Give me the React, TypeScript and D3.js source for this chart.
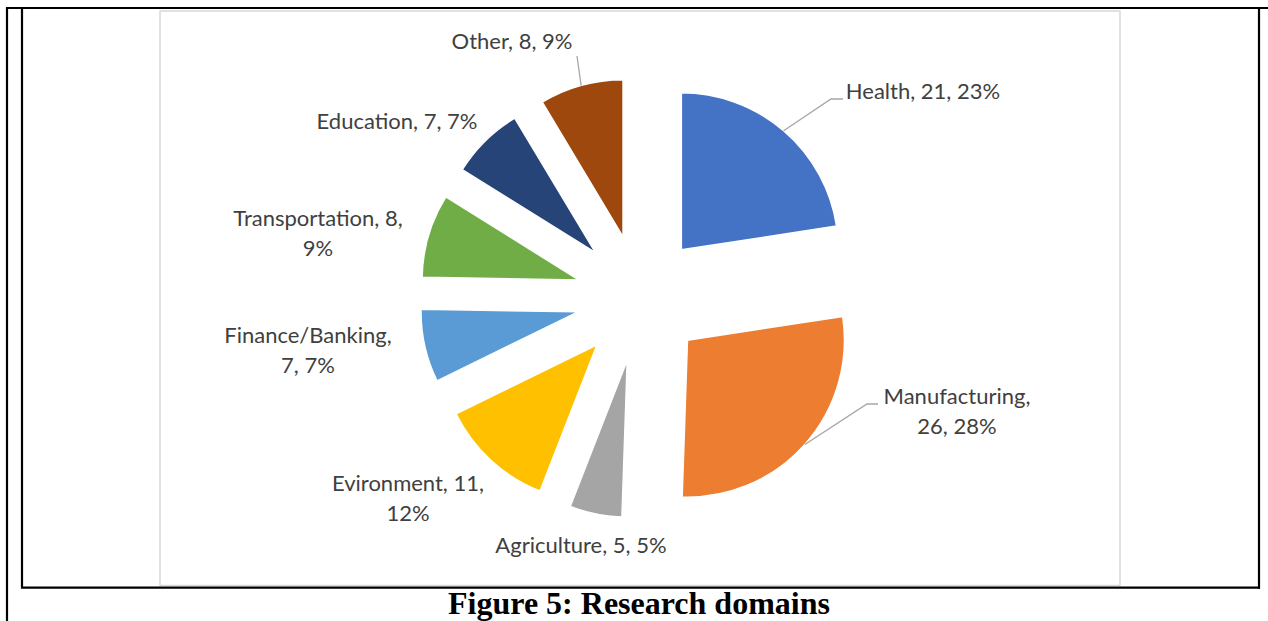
import React from "react";
import * as d3 from "d3";

const categories = ["Health", "Manufacturing", "Agriculture", "Evironment", "Finance/Banking", "Transportation", "Education", "Other"];
const values = [21, 26, 5, 11, 7, 8, 7, 8];
const colors = ["#4472C4", "#ED7D31", "#A5A5A5", "#FFC000", "#5B9BD5", "#70AD47", "#264478", "#9E480E"];

// layout: how many label parts go on the first line, label anchor (center x, first baseline y), leader elbow
const firstLineParts = [3, 1, 3, 2, 1, 2, 3, 3];
const labelAnchor: [number, number][] = [
  [923, 99], [957, 404], [581, 553], [408, 491], [308, 343], [318, 226], [397, 129], [512, 49],
];
const leaderPath: ([number, number][] | null)[] = [
  [[831, 99], [843, 99]],
  [[867, 404], [878, 404]],
  null, null, null, null, null,
  [[577, 56]],
];

const W = 1268, H = 621;
const CX = 640, CY = 298, R = 157, EXPLODE = 63.5;

// percentages rounded so that they sum to 100 (largest remainder)
function roundedPercents(vals: number[]): number[] {
  const total = d3.sum(vals);
  const raw = vals.map((v) => (v / total) * 100);
  const fl = raw.map((r) => Math.floor(r));
  let rest = 100 - d3.sum(fl);
  const order = raw.map((r, i) => [r - Math.floor(r), i]).sort((a, b) => b[0] - a[0]);
  for (let k = 0; k < order.length && rest > 0; k++, rest--) fl[order[k][1]] += 1;
  return fl;
}

export default function App() {
  const pcts = roundedPercents(values);
  const pie = d3.pie<number>().sort(null).value((v) => v).startAngle(0).endAngle(2 * Math.PI);
  const arcs = pie(values);
  const arcGen = d3.arc<d3.PieArcDatum<number>>().innerRadius(0).outerRadius(R);

  return (
    <svg width={W} height={H} style={{ position: "absolute", left: 0, top: 0, background: "#fff" }}>
      <rect x={0} y={0} width={W} height={H} fill="#fff" />
      {/* chart area border */}
      <rect x={160} y={11} width={960} height={574.5} fill="#fff" stroke="#D9D9D9" strokeWidth={1.5} />
      {/* table frame */}
      <g stroke="#000" strokeWidth={2.2} fill="none">
        <line x1={7} y1={7.5} x2={7} y2={621} />
        <line x1={6} y1={8} x2={1268} y2={8} />
        <line x1={22} y1={8} x2={22} y2={587.8} />
        <line x1={21} y1={587.7} x2={1260} y2={587.7} />
        <line x1={1259} y1={8} x2={1259} y2={588.8} />
      </g>
      <g transform={`translate(${CX},${CY})`}>
        {arcs.map((a, i) => {
          const mid = (a.startAngle + a.endAngle) / 2;
          const dx = EXPLODE * Math.sin(mid);
          const dy = -EXPLODE * Math.cos(mid);
          return (
            <path key={i} d={arcGen(a) || ""} transform={`translate(${dx},${dy})`} fill={colors[i]} stroke="#fff" strokeWidth={1.5} strokeLinejoin="round" />
          );
        })}
      </g>
      {/* leader lines */}
      {arcs.map((a, i) => {
        const lp = leaderPath[i];
        if (!lp) return null;
        const mid = (a.startAngle + a.endAngle) / 2;
        const r = EXPLODE + R;
        const sx = CX + r * Math.sin(mid);
        const sy = CY - r * Math.cos(mid);
        const pts: [number, number][] = [[sx, sy], ...lp];
        return <path key={"l" + i} d={d3.line()(pts) || ""} fill="none" stroke="#A6A6A6" strokeWidth={1.3} />;
      })}
      {/* labels */}
      {arcs.map((a, i) => {
        const parts = [categories[i] + ",", values[i] + ",", pcts[i] + "%"];
        const n = firstLineParts[i];
        const lines = [parts.slice(0, n).join(" "), parts.slice(n).join(" ")].filter((s) => s.length > 0);
        const [x, y] = labelAnchor[i];
        return (
          <text key={"t" + i} x={x} y={y} textAnchor="middle" fontFamily="Lato, 'Open Sans', sans-serif" fontSize={22} fill="#404040">
            {lines.map((ln, j) => (
              <tspan key={j} x={x} dy={j === 0 ? 0 : 30}>{ln}</tspan>
            ))}
          </text>
        );
      })}
      <text x={639} y={614} textAnchor="middle" fontFamily="'Liberation Serif', 'Times New Roman', serif" fontWeight="bold" fontSize={32} fill="#000">
        Figure 5: Research domains
      </text>
    </svg>
  );
}
